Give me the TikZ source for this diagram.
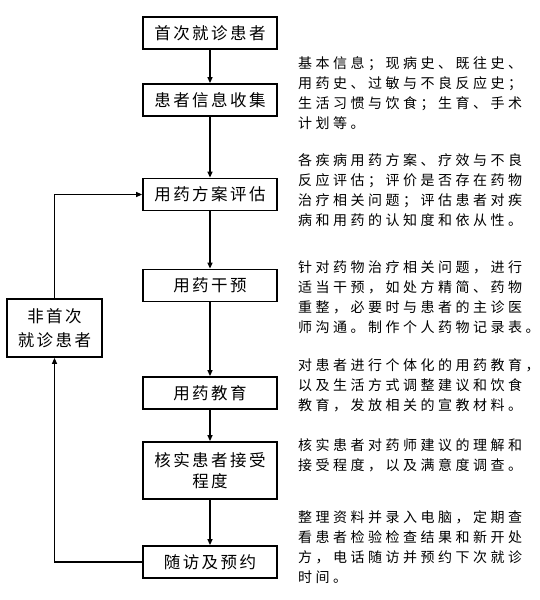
\documentclass[tikz,border=0pt]{standalone}
\usepackage{fontspec}
\newfontfamily\boxfont[LetterSpace=15]{Noto Sans CJK SC}
\newfontfamily\notefont[LetterSpace=25]{Noto Sans CJK SC}
\usetikzlibrary{arrows.meta}
\begin{document}
\begin{tikzpicture}[x=1pt,y=-1pt]
\useasboundingbox (0,0) rectangle (539,600);
\tikzset{
  stepbox/.style={draw, line width=1.8pt, minimum width=134pt, minimum height=32pt, inner sep=0pt, align=center, font=\boxfont\fontsize{16.5}{21}\selectfont},
  note/.style={anchor=north west, inner sep=0pt, align=left, font=\notefont\fontsize{14}{20}\selectfont},
  conn/.style={line width=1.4pt, -{Triangle[length=6pt,width=5pt]}}
}
\node[stepbox] (n1) at (210,33) {首次就诊患者};
\node[stepbox] (n2) at (210,100) {患者信息收集};
\node[stepbox] (n3) at (210,194.5) {用药方案评估};
\node[stepbox] (n4) at (210,285.5) {用药干预};
\node[stepbox] (n5) at (210,393) {用药教育};
\node[stepbox, minimum height=57pt] (n6) at (210,470.5) {核实患者接受\\程度};
\node[stepbox] (n7) at (210,562) {随访及预约};
\node[stepbox, minimum width=95pt, minimum height=58pt, font=\boxfont\fontsize{16.5}{24}\selectfont] (n0) at (54.5,328) {非首次\\就诊患者};
\draw[conn] (n1) -- (n2);
\draw[conn] (n2) -- (n3);
\draw[conn] (n3) -- (n4);
\draw[conn] (n4) -- (n5);
\draw[conn] (n5) -- (n6);
\draw[conn] (n6) -- (n7);
\draw[conn] (n7.west) -| (n0.south);
\draw[conn] (n0.north) |- (n3.west);
\node[note] (p1) at (298,56) {基本信息；现病史、既往史、\\用药史、过敏与不良反应史；\\生活习惯与饮食；生育、手术\\计划等。};
\node[note] (p2) at (298,153) {各疾病用药方案、疗效与不良\\反应评估；评价是否存在药物\\治疗相关问题；评估患者对疾\\病和用药的认知度和依从性。};
\node[note] (p3) at (298,260) {针对药物治疗相关问题，进行\\适当干预，如处方精简、药物\\重整，必要时与患者的主诊医\\师沟通。制作个人药物记录表。};
\node[note] (p4) at (298,358) {对患者进行个体化的用药教育，\\以及生活方式调整建议和饮食\\教育，发放相关的宣教材料。};
\node[note] (p5) at (298,438) {核实患者对药师建议的理解和\\接受程度，以及满意度调查。};
\node[note] (p6) at (298,510) {整理资料并录入电脑，定期查\\看患者检验检查结果和新开处\\方，电话随访并预约下次就诊\\时间。};
\end{tikzpicture}
\end{document}
